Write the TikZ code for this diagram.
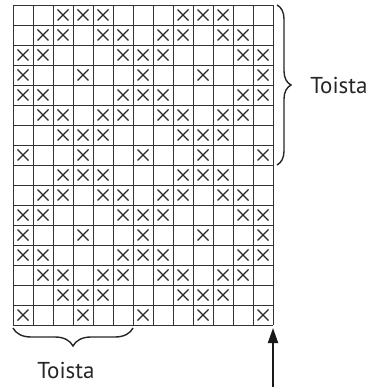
\documentclass[tikz,border=0pt]{standalone}
\usepackage{fontspec}
\setmainfont{PT Sans}
\usetikzlibrary{decorations.pathreplacing,arrows.meta}
\begin{document}
\begin{tikzpicture}[x=1pt,y=-1pt,
  gridline/.style={line width=0.9pt, draw=black!80},
  xmark/.style={line width=1.4pt, draw=black!85},
  bracestyle/.style={decorate, decoration={brace, amplitude=#1}, line width=1.4pt, draw=black!85},
  lbl/.style={font=\fontsize{23}{26}\selectfont, text=black!85, inner sep=0pt},
  pointer/.style={-{Triangle[length=15pt,width=10pt]}, line width=2pt, draw=black!90}]
\useasboundingbox (0,0) rectangle (376,387);
% grid frame node
\node[minimum width=260pt, minimum height=320pt, inner sep=0pt, outer sep=0pt, anchor=north west] (grid) at (13,5) {};
\foreach \i in {0,...,13} \draw[gridline] (13+20*\i,5) -- (13+20*\i,325);
\foreach \j in {0,...,16} \draw[gridline] (13,5+20*\j) -- (273,5+20*\j);
% crosses
\foreach \k in {0,8}{
  \foreach \r/\cols in {0/{3,4,5,9,10,11},1/{2,3,5,6,8,9,11,12},2/{1,2,6,7,8,12,13},3/{1,4,7,10,13},4/{1,2,6,7,8,12,13},5/{2,3,5,6,8,9,11,12},6/{3,4,5,9,10,11},7/{1,4,7,10,13}}{
    \foreach \c in \cols{
      \pgfmathsetmacro{\xa}{13+20*(\c-1)}
      \pgfmathsetmacro{\ya}{5+20*(\r+\k)}
      \draw[xmark] (\xa+4.5,\ya+4.5) -- (\xa+15.5,\ya+15.5) (\xa+15.5,\ya+4.5) -- (\xa+4.5,\ya+15.5);
    }
  }
}
% braces
\coordinate (rb1) at (277,5);
\coordinate (rb2) at (277,165);
\draw[bracestyle=14pt] (rb1) -- (rb2);
\coordinate (bb1) at (133,328);
\coordinate (bb2) at (13,328);
\draw[bracestyle=18pt] (bb1) -- (bb2);
% labels
\node[lbl] (rlabel) at (339,85) {Toista};
\node[lbl] (blabel) at (66,370) {Toista};
% arrow
\coordinate (foot) at (273,387);
\coordinate (tip) at (273,328);
\draw[pointer] (foot) -- (tip);
\end{tikzpicture}
\end{document}
